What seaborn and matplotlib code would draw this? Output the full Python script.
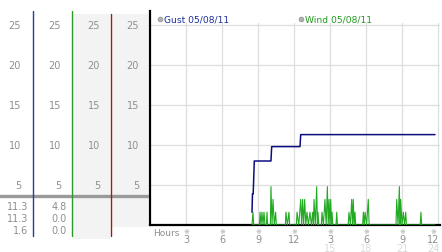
import matplotlib
matplotlib.use("Agg")
import matplotlib.pyplot as plt
import seaborn as sns
import pandas as pd

# ---------------- data ----------------
y_ticks = [5, 10, 15, 20, 25]
hour_ticks = [3, 6, 9, 12, 15, 18, 21, 24]
hour_labels = ["3", "6", "9", "12", "3", "6", "9", "12"]
hour_labels_24 = ["15", "18", "21", "24"]
gust_summary = ["11.3", "11.3", "1.6"]
wind_summary = ["4.8", "0.0", "0.0"]

gust_hours = [8.50, 8.54, 8.60, 8.69, 10.08, 10.14, 12.50, 12.56, 23.75]
gust_knots = [1.6, 3.9, 3.9, 8.0, 8.0, 9.8, 9.8, 11.3, 11.3]

wind_hours = [8.50, 8.58, 8.64, 9.12, 9.17, 9.25, 9.33, 9.42, 9.50, 9.58,
              9.70, 9.75, 9.80, 10.03, 10.08, 10.17, 10.25, 10.36, 10.47, 10.53,
              11.28, 11.33, 11.45, 11.58, 11.64, 12.20, 12.25, 12.40, 12.56, 12.64,
              12.72, 12.80, 12.89, 12.98, 13.08, 13.20, 13.33, 13.45, 13.56, 13.62,
              13.67, 13.78, 13.89, 13.95, 14.00, 14.06, 14.28, 14.33, 14.45, 14.58,
              14.68, 14.78, 14.85, 14.92, 14.99, 15.06, 15.12, 15.17, 15.23, 15.50,
              15.56, 15.62, 16.52, 16.58, 16.70, 16.81, 16.88, 16.94, 17.01, 17.08,
              17.14, 17.72, 17.78, 17.85, 17.92, 18.05, 18.19, 18.26, 20.50, 20.56,
              20.67, 20.78, 20.84, 20.89, 21.00, 21.11, 21.21, 21.31, 21.37, 22.52,
              22.58, 22.64, 23.75]
wind_knots = [0, 1.6, 0, 0, 1.6, 0, 1.6, 0, 1.6, 0,
              0, 1.6, 0, 0, 4.8, 0, 3.2, 0, 1.6, 0,
              0, 1.6, 0, 1.6, 0, 0, 1.6, 0, 3.2, 0,
              3.2, 0, 3.2, 0, 1.6, 0, 1.6, 0, 1.6, 0,
              3.2, 0, 4.8, 0, 1.6, 0, 0, 1.6, 0, 3.2,
              0, 4.8, 0, 3.2, 0, 3.2, 0, 1.6, 0, 0,
              1.6, 0, 0, 1.6, 0, 3.2, 0, 3.2, 0, 1.6,
              0, 0, 1.6, 0, 1.6, 0, 3.2, 0, 0, 3.2,
              0, 4.8, 0, 3.2, 0, 1.6, 0, 1.6, 0, 0,
              1.6, 0, 0]

# ---------------- style ----------------
sns.set_style("white")
plt.rcParams["font.family"] = ["DejaVu Sans", "Noto Sans CJK JP"]

W, H = 442, 253
fig = plt.figure(figsize=(W / 100, H / 100), dpi=100)

def fy(p):
    return 1 - p / H

PX_PER_UNIT = 8.0
Y0 = 226  # pixel row of value 0
TOP = 12

# main axes
ax = fig.add_axes([150 / W, fy(Y0), (440 - 150) / W, (Y0 - TOP) / H])
xmax = (440 - 150) / 12.0
ymax = (Y0 - TOP) / PX_PER_UNIT
ax.set_xlim(0, xmax)
ax.set_ylim(0, ymax)
ax.set_facecolor("white")

grid_c = "#dedede"
for h in hour_ticks:
    ax.plot([h, h], [0, 25.3], color=grid_c, lw=0.9, zorder=1)
for v in y_ticks:
    ax.plot([0, xmax], [v, v], color=grid_c, lw=0.9, zorder=1)

wind_df = pd.DataFrame({"hour": wind_hours, "knots": wind_knots})
gust_df = pd.DataFrame({"hour": gust_hours, "knots": gust_knots})
sns.lineplot(data=wind_df, x="hour", y="knots", ax=ax, color="#22aa22", lw=0.8,
             estimator=None, sort=False, zorder=3)
sns.lineplot(data=gust_df, x="hour", y="knots", ax=ax, color="#0d0d80", lw=1.1,
             estimator=None, sort=False, zorder=4)

for s in ["top", "right"]:
    ax.spines[s].set_visible(False)
for s in ["left", "bottom"]:
    ax.spines[s].set_color("black")
    ax.spines[s].set_linewidth(1.6)
ax.set_xticks([])
ax.set_yticks([])
ax.set_xlabel("")
ax.set_ylabel("")

lab_c = "#8f8f8f"
mark_kw = dict(fontsize=5, color="#a0a0a0", ha="center", va="center", clip_on=False)
n = len(hour_ticks)
for i, (h, lab) in enumerate(zip(hour_ticks, hour_labels)):
    last = i == n - 1
    hx = h - 0.4 if last else h
    ax.text(hx, -0.75, "※", **mark_kw)
    ax.text(hx, -1.8, lab, fontsize=7, color=lab_c, ha="center", va="center", clip_on=False)
for i, (h, lab) in enumerate(zip(hour_ticks[4:], hour_labels_24)):
    last = i == len(hour_labels_24) - 1
    hx = h - 0.4 if last else h
    ax.text(hx, -2.9, lab, fontsize=7, color="#dcdcdc", ha="center", va="center", clip_on=False)
ax.text(0.25, -0.95, "Hours", fontsize=6.5, color=lab_c, ha="left", va="center", clip_on=False)
for v in y_ticks:
    ax.text(-0.38, v, "※", **mark_kw)

# legend
ax.scatter([0.85], [25.75], s=12, color="#b0b0b0", edgecolor="#909090", lw=0.5, clip_on=False, zorder=5)
ax.text(1.15, 25.8, "Gust 05/08/11", fontsize=6.6, color="#1a2f9a", ha="left", va="center")
ax.scatter([12.6], [25.75], s=12, color="#b0b0b0", edgecolor="#909090", lw=0.5, clip_on=False, zorder=5)
ax.text(12.95, 25.8, "Wind 05/08/11", fontsize=6.6, color="#1e9a1e", ha="left", va="center")

# left panel
ax2 = fig.add_axes([0, 0, 149 / W, fy(TOP)])
ax2.set_xlim(0, 149)
ax2.set_ylim(-(H - Y0) / PX_PER_UNIT, ymax)
ax2.axis("off")

def val(p):
    return (Y0 - p) / PX_PER_UNIT

ax2.fill_between([73, 110], val(240), val(15), color="#f3f3f3", lw=0, zorder=0)
ax2.fill_between([112, 148], val(228), val(15), color="#f3f3f3", lw=0, zorder=0)
ax2.plot([0, 149], [val(197), val(197)], color="#9a9a9a", lw=2.4, zorder=2)
ax2.plot([33, 33], [val(12), val(237)], color="#1f3f9f", lw=1.0, zorder=3)
ax2.plot([72, 72], [val(12), val(237)], color="#2a9a2a", lw=1.0, zorder=3)
ax2.plot([111, 111], [val(15), val(237)], color="#a01818", lw=1.0, zorder=3)

for xr in [21, 61, 100, 139]:
    for v in y_ticks:
        ax2.text(xr, v, str(v), fontsize=7, color=lab_c, ha="right", va="center")
for i, p in enumerate([207, 219, 231]):
    ax2.text(28, val(p), gust_summary[i], fontsize=7, color=lab_c, ha="right", va="center")
    ax2.text(67, val(p), wind_summary[i], fontsize=7, color=lab_c, ha="right", va="center")

fig.savefig("out.png", dpi=100)
